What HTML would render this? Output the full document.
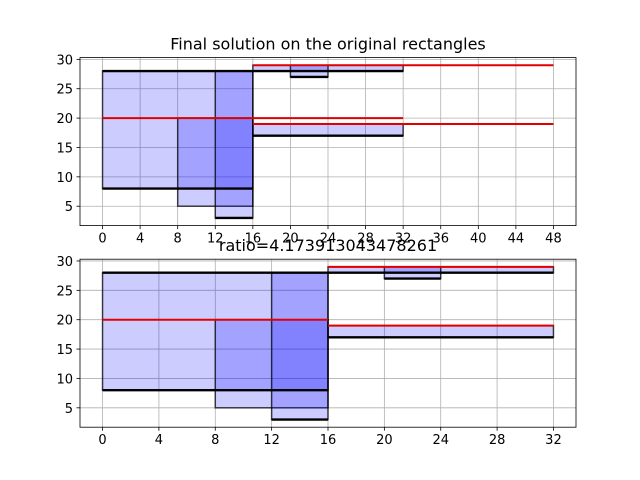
<!DOCTYPE html>
<html><head><meta charset="utf-8"><style>
html,body{margin:0;padding:0;background:#fff;}
svg{display:block;font-family:"DejaVu Sans","Liberation Sans",sans-serif;}
</style></head><body>
<svg id="fig" width="640" height="480" viewBox="0 0 640 480"></svg>
<script>
// ---- data ----
const rectsTop = [[0,16,8,28],[8,16,5,20],[12,16,3,28],[16,32,17,19],[16,32,28,29],[20,24,27,29]];
const rectsBot = [[0,16,8,28],[8,16,5,20],[12,16,3,28],[16,32,17,19],[16,32,28,29],[20,24,27,29]];
const blackTop = [[0,16,28],[0,16,8],[12,16,3],[16,32,17],[16,32,28],[20,24,27]];
const blackBot = [[0,16,28],[0,16,8],[12,16,3],[16,32,17],[16,32,28],[20,24,27]];
const redTop = [[0,32,20],[16,48,19],[16,48,29]];
const redBot = [[0,16,20],[16,32,19],[16,32,29]];
const xTicksTop = [0,4,8,12,16,20,24,28,32,36,40,44,48];
const xTicksBot = [0,4,8,12,16,20,24,28,32];
const yTicks = [5,10,15,20,25,30];
const titleTop = "Final solution on the original rectangles";
const titleBot = "ratio=4.173913043478261";

const NS="http://www.w3.org/2000/svg";
const svg=document.getElementById('fig');
function mk(tag,attrs,parent){const e=document.createElementNS(NS,tag);for(const k in attrs)e.setAttribute(k,attrs[k]);(parent||svg).appendChild(e);return e;}

function drawAxes(name,top,bottom,xmin,xmax,ymin,ymax,rects,blacks,reds,xticks,title){
  const L=80,R=576;
  const g=mk('g',{});
  
  
  const sx=v=>L+(v-xmin)/(xmax-xmin)*(R-L);
  const sy=v=>bottom-(v-ymin)/(ymax-ymin)*(bottom-top);
  const grid=mk('g',{},g);
  
  
  xticks.forEach(t=>mk('line',{x1:sx(t),x2:sx(t),y1:top,y2:bottom,stroke:'#b0b0b0','stroke-width':0.8},grid));
  yTicks.forEach(t=>mk('line',{x1:L,x2:R,y1:sy(t),y2:sy(t),stroke:'#b0b0b0','stroke-width':0.8},grid));
  rects.forEach((r,i)=>{
    const e=mk('rect',{x:sx(r[0]),y:sy(r[3]),width:sx(r[1])-sx(r[0]),height:sy(r[2])-sy(r[3]),fill:'rgba(0,0,255,0.2)',stroke:'rgba(0,0,0,0.7)','stroke-width':1.5},g);
    
    
  });
  blacks.forEach(b=>{
    const e=mk('line',{x1:sx(b[0]),x2:sx(b[1]),y1:sy(b[2]),y2:sy(b[2]),stroke:'#000','stroke-width':2.4},g);
    
    
  });
  reds.forEach(b=>{
    const e=mk('line',{x1:sx(b[0]),x2:sx(b[1]),y1:sy(b[2]),y2:sy(b[2]),stroke:'#e00000','stroke-width':2},g);
    
    
  });
  const f=mk('rect',{x:L,y:top,width:R-L,height:bottom-top,fill:'none',stroke:'#000','stroke-width':0.8},g);
  
  
  xticks.forEach(t=>{
    mk('line',{x1:sx(t),x2:sx(t),y1:bottom,y2:bottom+3.5,stroke:'#000','stroke-width':0.8},g);
    const tx=mk('text',{x:sx(t),y:bottom+17,'text-anchor':'middle','font-size':13,fill:'#000'},g);
    tx.textContent=t;
    
    
  });
  yTicks.forEach(t=>{
    mk('line',{x1:L,x2:L-3.5,y1:sy(t),y2:sy(t),stroke:'#000','stroke-width':0.8},g);
    const tx=mk('text',{x:L-7,y:sy(t)+5,'text-anchor':'end','font-size':13,fill:'#000'},g);
    tx.textContent=t;
    
    
  });
  const tt=mk('text',{x:(L+R)/2,y:top-8,'text-anchor':'middle','font-size':16,fill:'#000'},g);
  tt.textContent=title;
  
  
}
drawAxes('top-chart',57.6,225.6,-2.4,50.4,1.7,30.3,rectsTop,blackTop,redTop,xTicksTop,titleTop);
drawAxes('bottom-chart',259.2,427.2,-1.6,33.6,1.7,30.3,rectsBot,blackBot,redBot,xTicksBot,titleBot);
</script>
</body></html>
